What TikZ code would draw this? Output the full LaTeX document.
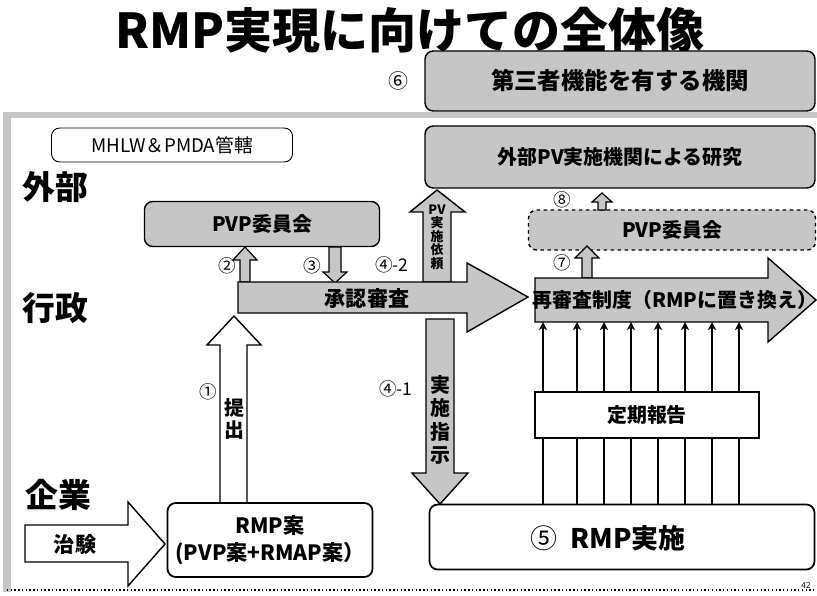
\documentclass[tikz,border=0pt]{standalone}
\usepackage{fontspec}
\setmainfont{Noto Sans CJK JP}
\usetikzlibrary{arrows.meta}
\colorlet{halftone}{gray!45}
\newlength{\px}
\setlength{\px}{0.03cm}
\newcommand{\fs}[1]{\fontsize{#1}{#1}\selectfont}

\begin{document}
\begin{tikzpicture}[x=\px, y=-\px,
    box/.style={draw, line width=1.2pt, rounded corners=7pt, fill=white, inner sep=0pt},
    tone/.style={box, fill=halftone},
    blk/.style={draw, line width=1.2pt, fill=halftone},
    num/.style={font=\fs{15}},
    side/.style={font=\fs{28}\bfseries}]
    \useasboundingbox (0,0) rectangle (817,596);

    % title
    \node[font=\fs{41}\bfseries] (title) at (410,30) {RMP実現に向けての全体像};

    % frame
    \draw[halftone, line width=6\px] (5,115) -- (817,115);
    \draw[halftone, line width=8\px] (7,112) -- (7,592);
    \draw[dotted, line width=1.2pt] (7,590) -- (817,590);

    % top boxes
    \node[num, font=\fs{17}] (n6) at (398,81) {⑥};
    \node[tone, minimum width=390\px, minimum height=60\px, font=\fs{20}\bfseries] (third) at (620,81) {第三者機能を有する機関};
    \node[box, line width=0.8pt, minimum width=241\px, minimum height=34\px, font=\fs{16}] (mhlw) at (172,145) {MHLW＆PMDA管轄};
    \node[tone, minimum width=390\px, minimum height=62\px, font=\fs{17}\bfseries] (ext) at (620,157) {外部PV実施機関による研究};

    % side labels
    \node[side] (gaibu) at (55,187) {外部};
    \node[side] (gyosei) at (55,308) {行政};
    \node[side] (kigyo) at (58,495) {企業};

    % committees
    \node[tone, minimum width=235\px, minimum height=45\px, font=\fs{17}\bfseries] (pvpl) at (262,224) {PVP委員会};
    \node[tone, dashed, minimum width=287\px, minimum height=40\px, font=\fs{17}\bfseries] (pvpr) at (672,230) {PVP委員会};

    % small arrows
    \draw[blk, line width=1pt] (240,282) -- (240,260) -- (233,260) -- (245,247) -- (257,260) -- (250,260) -- (250,282) -- cycle;
    \draw[blk, line width=1pt] (329,247) -- (329,272) -- (323,272) -- (335,283) -- (347,272) -- (341,272) -- (341,247) -- cycle;
    \draw[blk, line width=1pt] (582,278) -- (582,258) -- (575,258) -- (587,246) -- (599,258) -- (592,258) -- (592,278) -- cycle;
    \draw[blk, line width=1pt] (598,210) -- (598,202) -- (592,202) -- (602,193) -- (612,202) -- (606,202) -- (606,210) -- cycle;
    \node[num] (n2) at (227,266) {②};
    \node[num] (n3) at (312,266) {③};
    \node[num] (n42) at (392,265) {④-2};
    \node[num] (n7) at (562,263) {⑦};
    \node[num] (n8) at (562,200) {⑧};

    % PV request
    \draw[blk] (423,282) -- (423,212) -- (410,212) -- (437,190) -- (465,212) -- (451,212) -- (451,282) -- cycle;
    \node[font=\fontsize{11}{11.5}\selectfont\bfseries, align=center] (irai) at (437,237) {PV\\実\\施\\依\\頼};

    % approval review
    \draw[blk] (238,282) -- (467,282) -- (467,263) -- (528,297) -- (467,332) -- (467,313) -- (238,313) -- cycle;
    \node[font=\fs{18}\bfseries] (shonin) at (367,298) {承認審査};

    % re-examination
    \draw[blk] (535,278) -- (768,278) -- (768,258) -- (816,300) -- (768,342) -- (768,322) -- (535,322) -- cycle;
    \node[font=\fs{17}\bfseries] (saishin) at (675,300) {再審査制度（RMPに置き換え）};
    \coordinate (rbot) at (535,322);

    % instruction
    \draw[blk] (426,319) -- (426,473) -- (412,473) -- (440,504) -- (468,473) -- (454,473) -- (454,319) -- cycle;
    \node[font=\fontsize{17}{20}\selectfont\bfseries, align=center] (shiji) at (440,420) {実\\施\\指\\示};
    \node[num] (n41) at (396,389) {④-1};

    % submission
    \draw[line width=1.2pt, fill=white] (220,503) -- (220,345) -- (207,345) -- (234,316) -- (261,345) -- (247,345) -- (247,503) -- cycle;
    \node[font=\fontsize{17}{19}\selectfont\bfseries, align=center] (teishutsu) at (234,419) {提\\出};
    \node[num] (n1) at (208,392) {①};

    % clinical trial
    \draw[line width=1.2pt, fill=white] (25,525) -- (128,525) -- (128,502) -- (165,544) -- (128,586) -- (128,562) -- (25,562) -- cycle;
    \node[font=\fs{18}\bfseries] (chiken) at (75,544) {治験};

    % company side
    \node[box, line width=1.5pt, minimum width=205\px, minimum height=74\px, align=center, font=\fontsize{18}{23}\selectfont\bfseries] (rmpan) at (270,540) {RMP案\\(PVP案+RMAP案）};
    \node[box, line width=1.5pt, minimum width=385\px, minimum height=65\px] (rmpdo) at (622,537) {};
    \node[font=\fs{23}\bfseries] (rmpdotxt) at (608,538) {{\mdseries ⑤}\hspace{0.5em}RMP実施};

    % periodic reports
    \foreach \x in {543,577,604,631,658,685,712,739}
        \draw[-{Stealth[length=7pt,width=7pt]}, line width=1.2pt] (\x,0 |- rmpdo.north) -- (\x,0 |- rbot);
    \node[draw, line width=1.5pt, fill=white, minimum width=224\px, minimum height=46\px, font=\fs{17}\bfseries] (teiki) at (647,415) {定期報告};

    \node[font=\fs{7}] (pg) at (806,586) {42};
\end{tikzpicture}
\end{document}
